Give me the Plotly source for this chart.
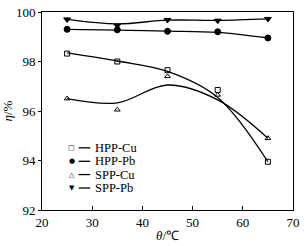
import plotly.graph_objects as go

# Data
temps = [25, 35, 45, 55, 65]
hpp_cu = [98.32, 98.0, 97.65, 96.85, 93.95]
hpp_pb = [99.3, 99.28, 99.22, 99.2, 98.95]
spp_cu = [96.5, 96.05, 97.4, 96.65, 94.9]
spp_pb = [99.7, 99.45, 99.68, 99.65, 99.72]

# Fitted (smoothed) curve values
hpp_cu_fit = [98.35, 98.02, 97.6, 96.55, 93.95]
hpp_pb_fit = [99.3, 99.27, 99.23, 99.18, 98.95]
spp_cu_fit = [96.5, 96.33, 97.05, 96.45, 94.9]
spp_pb_fit = [99.7, 99.52, 99.67, 99.66, 99.72]

names = ["HPP-Cu", "HPP-Pb", "SPP-Cu", "SPP-Pb"]
symbols = ["square-open", "circle", "triangle-up-open", "triangle-down"]
glyphs = ["□", "●", "△", "▼"]
sizes = [5, 6, 5, 6]

series = [hpp_cu, hpp_pb, spp_cu, spp_pb]
fits = [hpp_cu_fit, hpp_pb_fit, spp_cu_fit, spp_pb_fit]

FONT = "Liberation Serif"

fig = go.Figure()

for name, ys, fy, sym, sz in zip(names, series, fits, symbols, sizes):
    fig.add_trace(go.Scatter(
        x=temps, y=fy, mode="lines", line=dict(color="black", width=1.3, shape="spline", smoothing=1.0),
        showlegend=False, hoverinfo="skip"))
    fig.add_trace(go.Scatter(
        x=temps, y=ys, mode="markers", name=name, showlegend=False,
        marker=dict(symbol=sym, size=sz, color="black", line=dict(color="black", width=1))))

# Manual legend (compact, like the reference)
leg_y = [0.314, 0.246, 0.179, 0.111]
for name, g, yy in zip(names, glyphs, leg_y):
    fig.add_annotation(x=0.119, y=yy, xref="paper", yref="paper", text=g, showarrow=False,
                       font=dict(family="DejaVu Sans", size=7, color="black"),
                       xanchor="center", yanchor="middle", borderpad=0)
    fig.add_shape(type="line", xref="paper", yref="paper", x0=0.146, x1=0.192, y0=yy, y1=yy,
                  line=dict(color="black", width=1.3))
    fig.add_annotation(x=0.208, y=yy, xref="paper", yref="paper", text=name, showarrow=False,
                       font=dict(family=FONT, size=12.5, color="black"),
                       xanchor="left", yanchor="middle", borderpad=0)

fig.update_layout(
    width=305, height=246,
    margin=dict(l=40, r=5, t=5, b=34),
    paper_bgcolor="white", plot_bgcolor="white",
    font=dict(family=FONT, size=13, color="black"),
    showlegend=False,
)

fig.update_xaxes(range=[20, 70], tickvals=[20, 30, 40, 50, 60, 70],
                 ticks="inside", ticklen=4, tickcolor="black", ticklabeloverflow="allow",
                 showline=True, linecolor="black", linewidth=1, mirror=True,
                 showgrid=False, zeroline=False, tickfont=dict(family=FONT, size=13),
                 title=dict(text="<i>θ</i>/℃", font=dict(family=FONT, size=13), standoff=2))
fig.update_yaxes(range=[92, 100], tickvals=[92, 94, 96, 98, 100],
                 ticks="outside", ticklen=3, tickcolor="black", ticklabeloverflow="allow",
                 showline=True, linecolor="black", linewidth=1, mirror=True,
                 showgrid=False, zeroline=False, tickfont=dict(family=FONT, size=13),
                 title=dict(text="<i>η</i>/%", font=dict(family=FONT, size=13), standoff=2))

fig.write_html("out.html")
